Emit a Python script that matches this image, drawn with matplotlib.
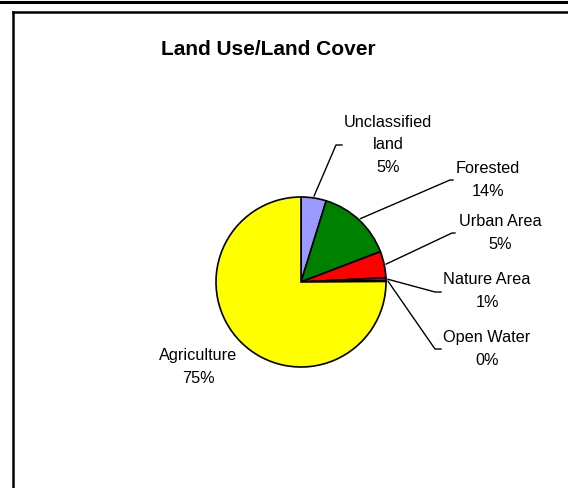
import numpy as np
import matplotlib
matplotlib.use("Agg")
import matplotlib.pyplot as plt

plt.rcParams['font.family'] = ['Liberation Sans', 'DejaVu Sans']

# data
categories = ["Unclassified\nland", "Forested", "Urban Area", "Nature Area", "Open Water", "Agriculture"]
shares = [4.8, 14.4, 5.0, 0.6, 0.1, 75.1]
colors = ["#9999FF", "#008000", "#FF0000", "#800080", "#00CCFF", "#FFFF00"]

W, H = 568, 489
fig = plt.figure(figsize=(W / 100, H / 100), dpi=100)
ax = fig.add_axes([0, 0, 1, 1])

def py(y):
    # pixel row from top -> data y
    return H - y

# pie
cx, cy, r = 301, py(283), 85
wedges, _ = ax.pie(shares, colors=colors, startangle=90, counterclock=False,
                   radius=r, center=(cx, cy), frame=True,
                   wedgeprops=dict(edgecolor="black", linewidth=1.2))
ax.set_xlim(0, W)
ax.set_ylim(0, H)
ax.set_aspect("equal")
ax.axis("off")

# frame lines
ax.plot([0, W], [py(3), py(3)], color="black", lw=2.2)
ax.plot([13, W + 5], [py(12.5), py(12.5)], color="black", lw=1.8)
ax.plot([13, 13], [py(12.5), -5], color="black", lw=1.8)

ax.text(W / 2 - 16, py(50), "Land Use/Land Cover", ha="center", va="center",
        fontsize=15, fontweight="bold")

# label layout: text centre and leader elbow (pixel coords), None = no leader
text_pos = [(388, 145), (488, 180), (500, 233), (487, 291), (487, 349), (198, 367)]
elbows = [((336, 146), (342, 146)), ((450, 181), (453, 181)), ((452, 234), (455, 234)),
          ((435, 293), (441, 293)), ((435, 350), (441, 350)), None]

for i, w in enumerate(wedges):
    pct = round(shares[i] / sum(shares) * 100)
    label = f"{categories[i]}\n{pct}%"
    tx, ty = text_pos[i]
    ax.text(tx, py(ty), label, ha="center", va="center", fontsize=11.7,
            linespacing=1.65, multialignment="center")
    if elbows[i] is not None:
        ang = np.deg2rad((w.theta1 + w.theta2) / 2)
        sx = cx + (r + 2) * np.cos(ang)
        sy = cy + (r + 2) * np.sin(ang)
        (ex, ey), (fx, fy) = elbows[i]
        ax.plot([sx, ex, fx], [sy, py(ey), py(fy)], color="black", lw=1.0)

fig.savefig("out.png", dpi=100)
